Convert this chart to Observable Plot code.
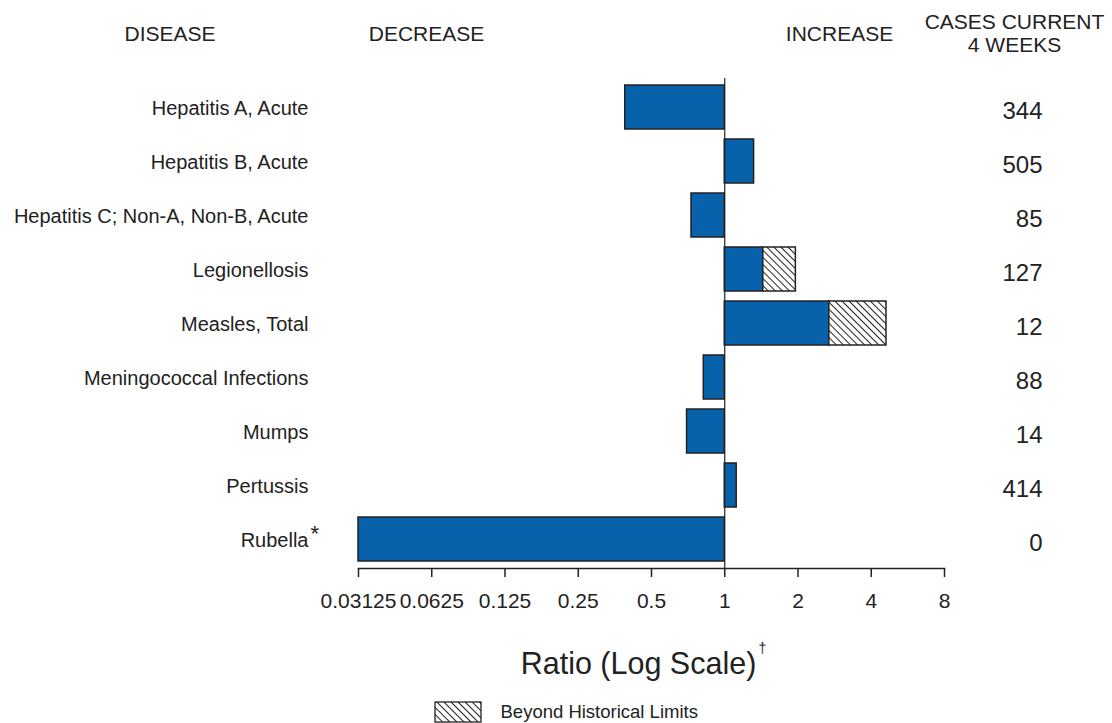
<!DOCTYPE html>
<html><head><meta charset="utf-8">
<script src="https://cdn.jsdelivr.net/npm/d3@7"></script>
<script src="https://cdn.jsdelivr.net/npm/@observablehq/plot@0.6"></script>
<style>html,body{margin:0;padding:0;background:#fff;}</style>
</head><body><div id="chart"></div>
<script>
const diseases = ["Hepatitis A, Acute","Hepatitis B, Acute","Hepatitis C; Non-A, Non-B, Acute","Legionellosis","Measles, Total","Meningococcal Infections","Mumps","Pertussis","Rubella"];
const ratios = [0.39, 1.32, 0.73, 1.44, 2.69, 0.82, 0.70, 1.12, 0.03125];
const beyondLimits = [null, null, null, 1.96, 4.62, null, null, null, null];
const cases = [344, 505, 85, 127, 12, 88, 14, 414, 0];
const footnotes = ["", "", "", "", "", "", "", "", "*"];
const xTicks = [0.03125, 0.0625, 0.125, 0.25, 0.5, 1, 2, 4, 8];
const headerDisease = "DISEASE";
const headerDecrease = "DECREASE";
const headerIncrease = "INCREASE";
const headerCases = "CASES CURRENT\n4 WEEKS";
const axisTitle = "Ratio (Log Scale)";
const axisNote = "\u2020";
const legendLabel = "Beyond Historical Limits";

const rows = diseases.map((d, i) => ({disease: d, ratio: ratios[i], beyond: beyondLimits[i], cases: cases[i], note: footnotes[i]}));

const ink = "#222";
const blue = "#0862ab";
const font = "'Liberation Sans', Arial, Helvetica, sans-serif";

const defsAndSwatch = () => {
  const g = d3.create("svg:g");
  const pat = g.append("defs").append("pattern")
    .attr("id", "hatch").attr("patternUnits", "userSpaceOnUse")
    .attr("width", 5).attr("height", 5).attr("patternTransform", "rotate(-45)");
  pat.append("rect").attr("width", 5).attr("height", 5).attr("fill", "white");
  pat.append("line").attr("x1", 2.5).attr("y1", -1).attr("x2", 2.5).attr("y2", 6)
    .attr("stroke", ink).attr("stroke-width", 1);
  g.append("rect").attr("x", 435).attr("y", 702).attr("width", 46).attr("height", 20)
    .attr("fill", "url(#hatch)").attr("stroke", ink).attr("stroke-width", 1.3);
  return g.node();
};

const ML = 358;
const label = (text, x, y, fontSize, opts = {}) =>
  Plot.text([text], {frameAnchor: "top-left", textAnchor: "middle", lineAnchor: "middle", dx: x - ML, dy: y - 78, fontSize, fill: ink, ...opts});

const chart = Plot.plot({
  width: 1112,
  height: 723,
  marginLeft: ML,
  marginRight: 168,
  marginTop: 78,
  marginBottom: 155,
  style: {fontFamily: font, color: ink, background: "white", overflow: "visible"},
  x: {type: "log", base: 2, domain: [0.03125, 8]},
  y: {domain: diseases, paddingInner: 0.19, paddingOuter: 0.1},
  marks: [
    defsAndSwatch,
    Plot.barX(rows, {y: "disease", x1: 1, x2: "ratio", fill: blue, stroke: ink, strokeWidth: 1.5}),
    Plot.barX(rows.filter(d => d.beyond != null), {y: "disease", x1: "ratio", x2: "beyond", fill: "url(#hatch)", stroke: ink, strokeWidth: 1.5}),
    Plot.ruleX([1], {stroke: ink, strokeWidth: 1.2}),
    Plot.frame({anchor: "bottom", stroke: ink, strokeWidth: 1.5}),
    Plot.axisX({ticks: xTicks, tickFormat: d => String(d), tickSize: 9, tickPadding: 16, fontSize: 21, label: null, stroke: ink, strokeWidth: 1.5}),
    Plot.axisY({tickSize: 0, tickPadding: ML - 308, fontSize: 20, label: null, dy: 1}),
    Plot.text(rows.filter(d => d.note), {y: "disease", text: "note", frameAnchor: "left", dx: 310 - ML, dy: -6, textAnchor: "start", fontSize: 22, fill: ink}),
    Plot.text(rows, {y: "disease", text: "cases", frameAnchor: "right", dx: 1042 - (1112 - 168), dy: 4, textAnchor: "end", fontSize: 24, fill: ink}),
    label(headerDisease, 169.5, 34, 21),
    label(headerDecrease, 426, 34, 21),
    label(headerIncrease, 839, 34, 21),
    label(headerCases, 1014, 32.5, 21, {lineHeight: 1.1}),
    label(axisTitle, 638, 664, 30.5),
    label(axisNote, 758, 648, 14, {textAnchor: "start"}),
    label(legendLabel, 500, 712, 18.5, {textAnchor: "start"})
  ]
});
document.getElementById("chart").appendChild(chart);
</script>
</body></html>
